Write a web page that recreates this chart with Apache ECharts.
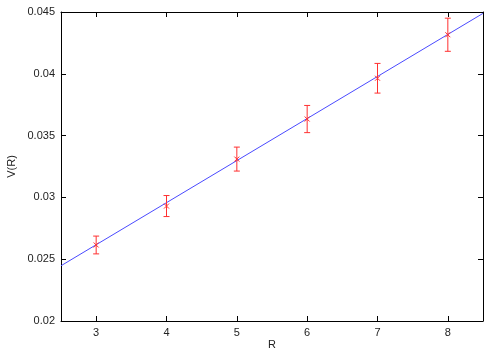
<!DOCTYPE html>
<html>
<head>
<meta charset="utf-8">
<script src="https://cdn.jsdelivr.net/npm/echarts@6/dist/echarts.min.js"></script>
<style>
  html, body { margin: 0; padding: 0; background: #fff; }
  #chart { width: 500px; height: 350px; }
</style>
</head>
<body>
<div id="chart"></div>
<script>
// measured points with errors
const rValues = [3, 4, 5, 6, 7, 8]
const vValues = [0.02615, 0.0293, 0.0331, 0.03634, 0.03964, 0.04316]
const vErrors = [0.00072, 0.00085, 0.00097, 0.0011, 0.0012, 0.00134]

// straight fit line, ends at the axis limits
const fitR = [2.5, 8.5]
const fitV = [0.02447, 0.04489]

const xTicks = [3, 4, 5, 6, 7, 8]
const yTicks = [0.02, 0.025, 0.03, 0.035, 0.04, 0.045]

const font = "'Liberation Sans', Arial, sans-serif"
const red = "#ff3030"

const points = rValues.map((r, i) => [r, vValues[i], vErrors[i]])
const fitData = fitR.map((r, i) => [r, fitV[i]])

const chart = echarts.init(document.getElementById("chart"))

const renderErrorBar = (params, api) => {
  const x = api.value(0)
  const y = api.value(1)
  const e = api.value(2)
  const top = api.coord([x, y + e])
  const bottom = api.coord([x, y - e])
  const mid = api.coord([x, y])
  const cap = 3
  const m = 2.5
  const style = { stroke: red, lineWidth: 1 }
  return {
    type: "group",
    children: [
      { type: "line", shape: { x1: top[0], y1: top[1], x2: bottom[0], y2: bottom[1] }, style },
      { type: "line", shape: { x1: top[0] - cap, y1: top[1], x2: top[0] + cap, y2: top[1] }, style },
      { type: "line", shape: { x1: bottom[0] - cap, y1: bottom[1], x2: bottom[0] + cap, y2: bottom[1] }, style },
      { type: "line", shape: { x1: mid[0] - m, y1: mid[1] - m, x2: mid[0] + m, y2: mid[1] + m }, style },
      { type: "line", shape: { x1: mid[0] - m, y1: mid[1] + m, x2: mid[0] + m, y2: mid[1] - m }, style }
    ]
  }
}

const axisLine = { show: true, onZero: false, lineStyle: { color: "#000", width: 1 } }

const option = {
  animation: false,
  backgroundColor: "#fff",
  grid: { left: 61, right: 17, top: 12, bottom: 29, containLabel: false, outerBoundsMode: "none" },
  xAxis: [
    {
      type: "value",
      min: 2.5,
      max: 8.5,
      name: "R",
      nameLocation: "middle",
      nameGap: 24,
      nameMoveOverlap: false,
      nameTextStyle: { fontFamily: font, fontSize: 11, color: "#222", verticalAlign: "middle" },
      axisLine,
      axisTick: { show: true, inside: true, length: 5, customValues: xTicks, lineStyle: { color: "#000" } },
      axisLabel: { customValues: xTicks, fontFamily: font, fontSize: 11, color: "#222", margin: 6 },
      splitLine: { show: false }
    },
    {
      type: "value",
      position: "top",
      min: 2.5,
      max: 8.5,
      axisLine,
      axisTick: { show: true, inside: true, length: 5, customValues: xTicks, lineStyle: { color: "#000" } },
      axisLabel: { show: false },
      splitLine: { show: false }
    }
  ],
  yAxis: [
    {
      type: "value",
      min: 0.02,
      max: 0.045,
      name: "V(R)",
      nameLocation: "middle",
      nameRotate: 90,
      nameGap: 49,
      nameMoveOverlap: false,
      nameTextStyle: { fontFamily: font, fontSize: 11, color: "#222", verticalAlign: "middle" },
      axisLine,
      axisTick: { show: true, inside: true, length: 5, customValues: yTicks, lineStyle: { color: "#000" } },
      axisLabel: {
        customValues: yTicks,
        fontFamily: font,
        fontSize: 11,
        color: "#222",
        margin: 6,
        formatter: (v) => String(+v.toFixed(3))
      },
      splitLine: { show: false }
    },
    {
      type: "value",
      position: "right",
      min: 0.02,
      max: 0.045,
      axisLine,
      axisTick: { show: true, inside: true, length: 5, customValues: yTicks, lineStyle: { color: "#000" } },
      axisLabel: { show: false },
      splitLine: { show: false }
    }
  ],
  series: [
    {
      type: "line",
      data: fitData,
      showSymbol: false,
      lineStyle: { color: "#4a4aff", width: 1 },
      z: 2
    },
    {
      type: "custom",
      data: points,
      renderItem: renderErrorBar,
      z: 3
    }
  ]
}

chart.setOption(option)
</script>
</body>
</html>
